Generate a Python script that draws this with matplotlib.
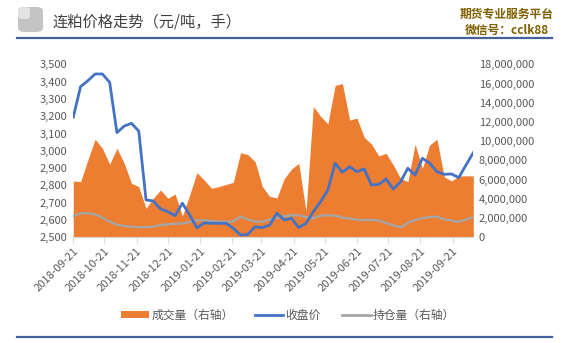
import matplotlib
matplotlib.use("Agg")
import matplotlib.pyplot as plt
import matplotlib.dates as mdates
from matplotlib.lines import Line2D
from matplotlib.patches import Patch, FancyBboxPatch
import pandas as pd

plt.rcParams["font.family"] = ["Noto Sans CJK SC", "DejaVu Sans"]

TITLE = "连粕价格走势（元/吨，手）"
BRAND_1 = "期货专业服务平台"
BRAND_2 = "微信号：cclk88"
LABELS = ["成交量（右轴）", "收盘价", "持仓量（右轴）"]

DATES = pd.date_range("2018-09-21", periods=56, freq="7D")
TICK_DATES = pd.date_range("2018-09-01", periods=13, freq="MS") + pd.Timedelta(days=20)

CLOSE = [
    3195, 3371, 3405, 3444, 3444, 3396, 3105, 3143, 3159, 3114,
    2716, 2710, 2664, 2648, 2625, 2697, 2629, 2555, 2583, 2581,
    2581, 2581, 2552, 2513, 2517, 2561, 2556, 2571, 2639, 2600,
    2610, 2556, 2581, 2648, 2706, 2773, 2928, 2876, 2908, 2879,
    2895, 2802, 2806, 2837, 2779, 2821, 2899, 2860, 2957, 2928,
    2879, 2864, 2866, 2845, 2918, 2989,
]

# 成交量, million lots
VOLUME = [
    5.86, 5.79, 8.04, 10.2, 9.26, 7.6, 9.26, 7.7, 5.62, 5.27,
    3.02, 4.06, 4.92, 4.06, 4.5, 2.22, 4.4, 6.72, 5.96, 5.1,
    5.27, 5.5, 5.72, 8.8, 8.6, 7.85, 5.27, 4.25, 4.1, 6.1,
    7.1, 7.7, 2.7, 13.6, 12.6, 11.8, 15.8, 16.0, 12.2, 12.4,
    10.4, 9.7, 8.46, 8.74, 7.52, 6.14, 5.79, 9.68, 7.18, 9.6,
    10.2, 6.3, 5.86, 6.38, 6.4, 6.38,
]

# 持仓量, million lots
OPEN_INT = [
    2.2, 2.5, 2.5, 2.4, 2.05, 1.65, 1.3, 1.18, 1.1, 1.05,
    1.05, 1.1, 1.28, 1.35, 1.4, 1.45, 1.6, 1.75, 1.8, 1.7,
    1.62, 1.62, 1.65, 2.15, 1.85, 1.65, 1.62, 1.85, 2.0, 2.2,
    2.3, 2.3, 2.1, 2.0, 2.25, 2.3, 2.25, 2.05, 1.95, 1.85,
    1.8, 1.8, 1.75, 1.5, 1.25, 1.02, 1.5, 1.8, 2.0, 2.1,
    2.15, 1.87, 1.75, 1.6, 1.85, 2.1,
]

ORANGE = "#ED7D31"
BLUE = "#4472C4"
GRAY = "#A5A5A5"
TEXT = "#595959"
RULE = "#44619C"

W, H = 569, 343
fig = plt.figure(figsize=(W / 100, H / 100), dpi=100)
ax1 = fig.add_axes([73.3 / W, 1 - 237.3 / H, 400 / W, 173 / H])
ax2 = ax1.twinx()

vol = [v * 1e6 for v in VOLUME]
oi = [v * 1e6 for v in OPEN_INT]
ax2.fill_between(DATES, 0, vol, color=ORANGE, linewidth=0)
ax2.plot(DATES, oi, color=GRAY, lw=1.7)
ax1.plot(DATES, CLOSE, color=BLUE, lw=2.0)

ax1.set_zorder(ax2.get_zorder() + 1)
ax1.patch.set_visible(False)

ax1.set_ylim(2500, 3500)
ax1.set_yticks(range(2500, 3501, 100))
ax2.set_ylim(0, 18e6)
ax2.set_yticks(range(0, 18000001, 2000000))
ax1.yaxis.set_major_formatter(matplotlib.ticker.FuncFormatter(lambda v, p: f"{v:,.0f}"))
ax2.yaxis.set_major_formatter(matplotlib.ticker.FuncFormatter(lambda v, p: f"{v:,.0f}"))

ax1.set_xlim(DATES[0], DATES[-1])
ax1.set_xticks(TICK_DATES)
ax1.xaxis.set_major_formatter(mdates.DateFormatter("%Y-%m-%d"))

for ax in (ax1, ax2):
    for side in ("top", "left", "right"):
        ax.spines[side].set_visible(False)
    ax.spines["bottom"].set_color("#D9D9D9")
    ax.tick_params(axis="y", length=0, labelsize=8, labelcolor=TEXT, pad=4)
ax1.tick_params(axis="x", length=4, color="#D9D9D9", labelsize=8, labelcolor=TEXT, pad=2)
ax2.spines["bottom"].set_visible(False)
for lab in ax1.get_xticklabels():
    lab.set_rotation(45)
    lab.set_ha("right")
    lab.set_rotation_mode("anchor")

handles = [
    Patch(facecolor=ORANGE, edgecolor="none"),
    Line2D([], [], color=BLUE, lw=2.0),
    Line2D([], [], color=GRAY, lw=2.0),
]
fig.legend(handles, LABELS, loc="center", bbox_to_anchor=(288 / W, 1 - 315 / H),
           ncol=3, frameon=False, fontsize=8.5, labelcolor=TEXT,
           handlelength=2.4, handleheight=0.6, handletextpad=0.2, columnspacing=1.8)

# header / footer decorations
icon = FancyBboxPatch((18 / W, 1 - 32 / H), 25 / W, 25 / H,
                      boxstyle="round,pad=0,rounding_size=0.012",
                      transform=fig.transFigure, facecolor="#C4C4C4", edgecolor="none")
fig.patches.append(icon)
icon_hi = FancyBboxPatch((18 / W, 1 - 19 / H), 12 / W, 12 / H,
                         boxstyle="round,pad=0,rounding_size=0.008",
                         transform=fig.transFigure, facecolor="#E2E2E2", edgecolor="none")
fig.patches.append(icon_hi)

fig.text(53 / W, 1 - 22 / H, TITLE, fontsize=11, color="#404040", va="center", ha="left")
fig.text(507 / W, 1 - 14 / H, BRAND_1, fontsize=8.5, color="#7F6000",
         fontweight="bold", va="center", ha="center")
fig.text(507 / W, 1 - 30 / H, BRAND_2, fontsize=8.5, color="#7F6000",
         fontweight="bold", va="center", ha="center")

for y in (38, 337):
    fig.add_artist(Line2D([17 / W, 552 / W], [1 - y / H, 1 - y / H],
                          transform=fig.transFigure, color=RULE, lw=1.6))

fig.savefig("out.png", dpi=100)
